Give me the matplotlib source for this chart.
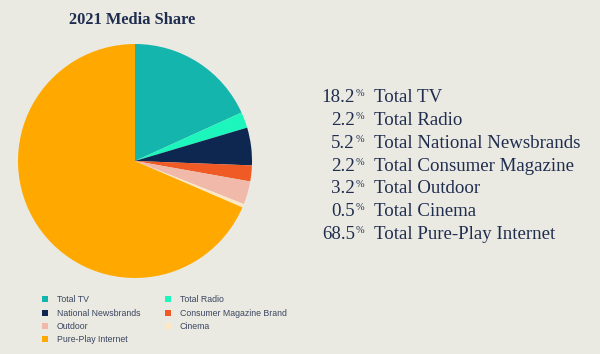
import matplotlib
matplotlib.use("Agg")
import matplotlib.pyplot as plt
from matplotlib.lines import Line2D

# data
categories = ["Total TV", "Total Radio", "National Newsbrands", "Consumer Magazine Brand",
              "Outdoor", "Cinema", "Pure-Play Internet"]
shares = [18.2, 2.2, 5.2, 2.2, 3.2, 0.5, 68.5]
side_labels = ["Total TV", "Total Radio", "Total National Newsbrands", "Total Consumer Magazine",
               "Total Outdoor", "Total Cinema", "Total Pure-Play Internet"]
colors = ["#14B5AD", "#1CF5BC", "#0D2750", "#F05A24", "#F0B9A9", "#FDE8C4", "#FFA900"]

bg = "#EBEAE2"
navy = "#1F2D4F"

fig = plt.figure(figsize=(6, 3.54), dpi=100, facecolor=bg)

# pie
ax = fig.add_axes([0.03, 0.2147, 0.39, 0.661])
ax.set_facecolor(bg)
ax.pie(shares, colors=colors, startangle=90, counterclock=False, radius=1,
       wedgeprops={"linewidth": 0})
ax.set_xlim(-1, 1)
ax.set_ylim(-1, 1)
ax.set_aspect("equal")
ax.axis("off")

fig.text(132 / 600, 1 - 20 / 354, "2021 Media Share", ha="center", va="center",
         fontsize=11.8, fontweight="bold", family="Liberation Serif", color=navy)

# legend, column-major order
order = [0, 2, 4, 6, 1, 3, 5]
handles = [Line2D([], [], marker="s", linestyle="none", markersize=4,
                  markerfacecolor=colors[i], markeredgewidth=0) for i in order]
fig.legend(handles, [categories[i] for i in order], ncol=2,
           loc="upper left", bbox_to_anchor=(37.5 / 600, 1 - 291 / 354),
           frameon=False, prop={"family": "Liberation Sans", "size": 6.3},
           labelcolor="#3A4660", handlelength=0.8, handletextpad=0.9,
           columnspacing=2.8, labelspacing=0.48, borderpad=0)

# side list
y0, dy = 98, 22.7
for k, (val, lab) in enumerate(zip(shares, side_labels)):
    y = 1 - (y0 + k * dy) / 354
    fig.text(355 / 600, y, f"{val:.1f}", ha="right", va="center",
             fontsize=13.6, family="Liberation Serif", color=navy)
    fig.text(355.5 / 600, y + 4 / 354, "%", ha="left", va="center",
             fontsize=7.5, family="Liberation Serif", color=navy)
    fig.text(374 / 600, y, lab, ha="left", va="center",
             fontsize=13.6, family="Liberation Serif", color=navy)

fig.savefig("out.png", dpi=100, facecolor=bg)
